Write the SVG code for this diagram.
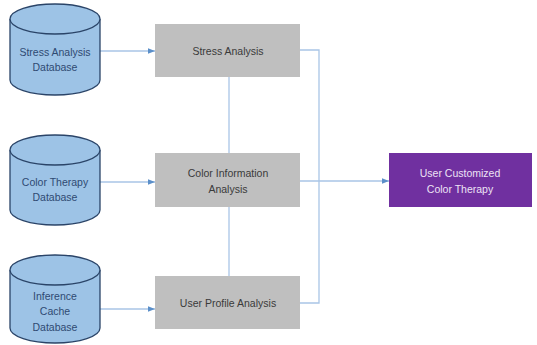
<svg xmlns="http://www.w3.org/2000/svg" width="537" height="345" viewBox="0 0 537 345">
  <defs>
    <marker id="arrow" viewBox="0 0 10 10" refX="10" refY="5" markerWidth="7" markerHeight="7" markerUnits="userSpaceOnUse" orient="auto">
      <path d="M0,1 L10,5 L0,9 Z" fill="#5B8FC9"/>
    </marker>
    <style>
      .db { fill: #9DC3E6; stroke: #2A4468; stroke-width: 1.3; }
      .db-label { font-family: "Liberation Sans", Arial, sans-serif; font-size: 10.5px; fill: #2F4A72; text-anchor: middle; }
      .proc { fill: #BFBFBF; }
      .proc-label { font-family: "Liberation Sans", Arial, sans-serif; font-size: 10.5px; fill: #3A3A3A; text-anchor: middle; }
      .out { fill: #7030A0; }
      .out-label { font-family: "Liberation Sans", Arial, sans-serif; font-size: 10.5px; fill: #EDE3F5; text-anchor: middle; }
      .link { fill: none; stroke: #A9C5E6; stroke-width: 1.3; }
    </style>
  </defs>
  <rect width="537" height="345" fill="#FFFFFF"/>

  <!-- connectors -->
  <g id="connectors">
    <line class="link" x1="100" y1="51" x2="155" y2="51" marker-end="url(#arrow)"/>
    <line class="link" x1="100" y1="182" x2="155" y2="182" marker-end="url(#arrow)"/>
    <line class="link" x1="100" y1="309" x2="155" y2="309" marker-end="url(#arrow)"/>
    <line class="link" x1="229" y1="77" x2="229" y2="153"/>
    <line class="link" x1="229" y1="207" x2="229" y2="276"/>
    <polyline class="link" points="300,50 319,50 319,303 300,303"/>
    <line class="link" x1="300" y1="181" x2="389" y2="181" marker-end="url(#arrow)"/>
  </g>

  <!-- databases -->
  <g id="db-stress">
    <path class="db" d="M10,19 A45,15 0 0 1 100,19 V80 A45,15 0 0 1 10,80 Z"/>
    <path class="db" fill="none" d="M10,19 A45,15 0 0 0 100,19"/>
    <text class="db-label" x="55" y="56">Stress Analysis</text>
    <text class="db-label" x="55" y="71">Database</text>
  </g>
  <g id="db-color">
    <path class="db" d="M10,150 A45,15 0 0 1 100,150 V210 A45,15 0 0 1 10,210 Z"/>
    <path class="db" fill="none" d="M10,150 A45,15 0 0 0 100,150"/>
    <text class="db-label" x="55" y="186">Color Therapy</text>
    <text class="db-label" x="55" y="201">Database</text>
  </g>
  <g id="db-cache">
    <path class="db" d="M10,270 A45,15 0 0 1 100,270 V328 A45,15 0 0 1 10,328 Z"/>
    <path class="db" fill="none" d="M10,270 A45,15 0 0 0 100,270"/>
    <text class="db-label" x="55" y="300">Inference</text>
    <text class="db-label" x="55" y="315">Cache</text>
    <text class="db-label" x="55" y="331">Database</text>
  </g>

  <!-- analysis steps -->
  <g id="stress-analysis">
    <rect class="proc" x="155" y="24" width="145" height="53"/>
    <text class="proc-label" x="228" y="55">Stress Analysis</text>
  </g>
  <g id="color-analysis">
    <rect class="proc" x="155" y="153" width="145" height="54"/>
    <text class="proc-label" x="228" y="177">Color Information</text>
    <text class="proc-label" x="228" y="193">Analysis</text>
  </g>
  <g id="profile-analysis">
    <rect class="proc" x="155" y="276" width="145" height="53"/>
    <text class="proc-label" x="228" y="307">User Profile Analysis</text>
  </g>

  <!-- result -->
  <g id="customized-therapy">
    <rect class="out" x="389" y="153" width="143" height="54"/>
    <text class="out-label" x="460" y="177">User Customized</text>
    <text class="out-label" x="460" y="193">Color Therapy</text>
  </g>
</svg>
